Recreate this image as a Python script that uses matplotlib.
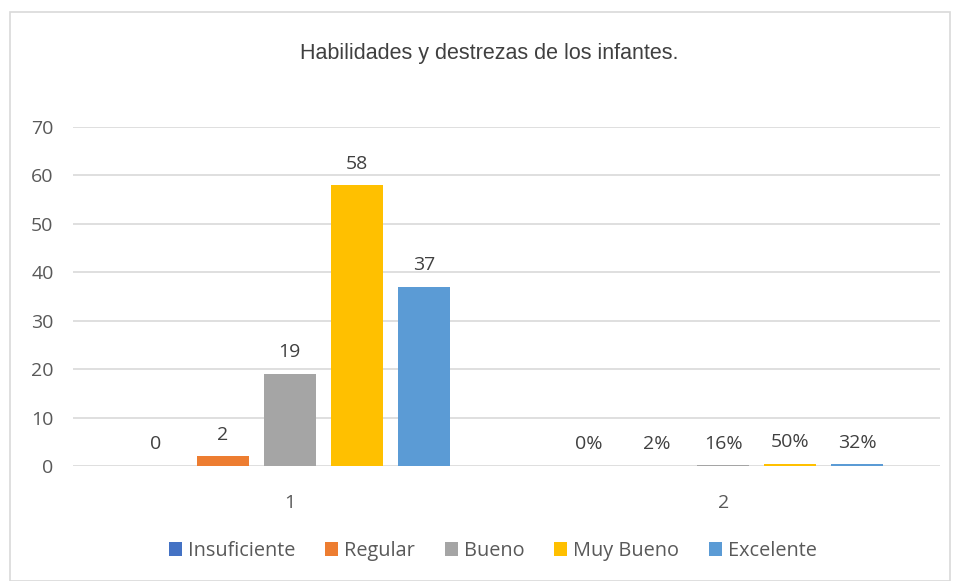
import matplotlib.pyplot as plt
import numpy as np
from matplotlib.patches import Rectangle

# datos
grupos = ["1", "2"]
series = ["Insuficiente", "Regular", "Bueno", "Muy Bueno", "Excelente"]
colores = ["#4472C4", "#ED7D31", "#A5A5A5", "#FFC000", "#5B9BD5"]
frecuencia = [0, 2, 19, 58, 37]
porcentaje = [0.0, 0.02, 0.16, 0.50, 0.32]

plt.rcParams['font.family'] = ['Open Sans', 'DejaVu Sans']

fig = plt.figure(figsize=(9.56, 5.81), dpi=100)
fig.patches.append(Rectangle((10/956, 0.0), 940/956, 1 - 12/581, transform=fig.transFigure,
                             fill=False, edgecolor='#D9D9D9', linewidth=1.2))
ax = fig.add_axes([73/956, 1 - 466/581, (940 - 73)/956, (466 - 127)/581])

x = np.arange(len(grupos))
paso = 67/433.5
ancho = 52/433.5
for i, (nombre, color) in enumerate(zip(series, colores)):
    vals = [frecuencia[i], porcentaje[i]]
    pos = x + (i - 2) * paso
    ax.bar(pos, vals, ancho, color=color, label=nombre, zorder=3)
    ax.text(pos[0], vals[0] + 2.6, str(frecuencia[i]), ha='center', va='bottom',
            fontsize=14, color='#404040')
    ax.text(pos[1], vals[1] + 2.6, f"{porcentaje[i]*100:.0f}%", ha='center', va='bottom',
            fontsize=14, color='#404040')

ax.set_xlim(-0.5, 1.5)
ax.set_ylim(0, 70)
ax.set_yticks(range(0, 71, 10))
ax.set_xticks(x)
ax.set_xticklabels(grupos)
ax.grid(axis='y', color='#D9D9D9', linewidth=1.2, zorder=0)
for s in ax.spines.values():
    s.set_visible(False)
ax.tick_params(length=0, labelsize=14, labelcolor='#595959', pad=14)
ax.tick_params(axis='x', pad=20)

fig.text(489/956, 1 - 53/581, "Habilidades y destrezas de los infantes.", ha='center', va='center',
         fontsize=15.5, color='#404040', family=['Liberation Sans Narrow', 'Liberation Sans'])

fig.legend(loc='center', bbox_to_anchor=(493/956, 1 - 551/581), ncol=5, frameon=False,
           fontsize=14.3, labelcolor='#595959', handlelength=0.65, handleheight=0.65,
           handletextpad=0.3, columnspacing=1.5)

fig.savefig("out.png", dpi=100)
